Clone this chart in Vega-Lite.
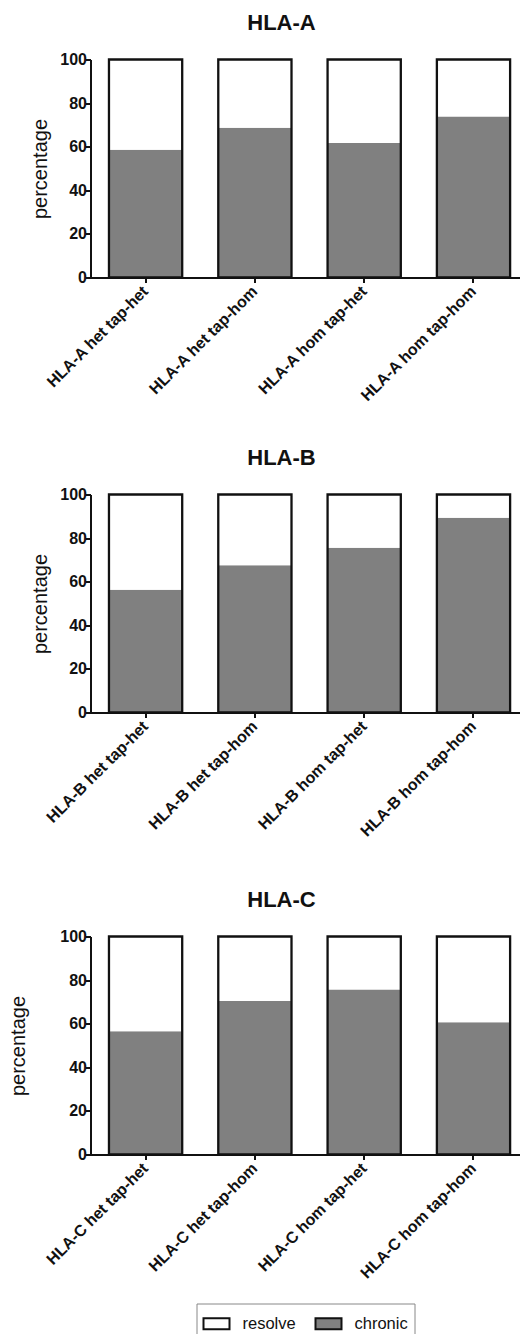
{
  "$schema": "https://vega.github.io/schema/vega-lite/v6.json",
  "padding": {"left": 8.5, "top": 11.5, "right": 0, "bottom": 0},
  "background": "white",
  "bounds": "flush",
  "spacing": 217,
  "datasets": {
    "d": [
      {"gene": "HLA-A", "group": "HLA-A het tap-het", "status": "chronic", "value": 58.6},
      {"gene": "HLA-A", "group": "HLA-A het tap-het", "status": "resolve", "value": 41.4},
      {"gene": "HLA-A", "group": "HLA-A het tap-hom", "status": "chronic", "value": 68.7},
      {"gene": "HLA-A", "group": "HLA-A het tap-hom", "status": "resolve", "value": 31.3},
      {"gene": "HLA-A", "group": "HLA-A hom tap-het", "status": "chronic", "value": 61.7},
      {"gene": "HLA-A", "group": "HLA-A hom tap-het", "status": "resolve", "value": 38.3},
      {"gene": "HLA-A", "group": "HLA-A hom tap-hom", "status": "chronic", "value": 73.8},
      {"gene": "HLA-A", "group": "HLA-A hom tap-hom", "status": "resolve", "value": 26.2},
      {"gene": "HLA-B", "group": "HLA-B het tap-het", "status": "chronic", "value": 56.3},
      {"gene": "HLA-B", "group": "HLA-B het tap-het", "status": "resolve", "value": 43.7},
      {"gene": "HLA-B", "group": "HLA-B het tap-hom", "status": "chronic", "value": 67.5},
      {"gene": "HLA-B", "group": "HLA-B het tap-hom", "status": "resolve", "value": 32.5},
      {"gene": "HLA-B", "group": "HLA-B hom tap-het", "status": "chronic", "value": 75.6},
      {"gene": "HLA-B", "group": "HLA-B hom tap-het", "status": "resolve", "value": 24.4},
      {"gene": "HLA-B", "group": "HLA-B hom tap-hom", "status": "chronic", "value": 89.3},
      {"gene": "HLA-B", "group": "HLA-B hom tap-hom", "status": "resolve", "value": 10.7},
      {"gene": "HLA-C", "group": "HLA-C het tap-het", "status": "chronic", "value": 56.5},
      {"gene": "HLA-C", "group": "HLA-C het tap-het", "status": "resolve", "value": 43.5},
      {"gene": "HLA-C", "group": "HLA-C het tap-hom", "status": "chronic", "value": 70.4},
      {"gene": "HLA-C", "group": "HLA-C het tap-hom", "status": "resolve", "value": 29.6},
      {"gene": "HLA-C", "group": "HLA-C hom tap-het", "status": "chronic", "value": 75.7},
      {"gene": "HLA-C", "group": "HLA-C hom tap-het", "status": "resolve", "value": 24.3},
      {"gene": "HLA-C", "group": "HLA-C hom tap-hom", "status": "chronic", "value": 60.7},
      {"gene": "HLA-C", "group": "HLA-C hom tap-hom", "status": "resolve", "value": 39.3}
    ]
  },
  "config": {
    "font": "Liberation Sans",
    "view": {"stroke": null},
    "title": {"fontSize": 22, "fontWeight": "bold", "color": "#111", "anchor": "middle", "dx": -24, "offset": 17},
    "axis": {
      "domainColor": "#111", "domainWidth": 2, "tickColor": "#111", "tickWidth": 2, "tickSize": 5,
      "labelColor": "#111", "labelFont": "Liberation Sans", "labelFontWeight": "bold", "grid": false,
      "titleColor": "#111", "titleFont": "Liberation Sans", "titleFontWeight": "normal"
    },
    "axisX": {"labelAngle": -45, "labelFontSize": 16, "labelPadding": 6, "labelAlign": "right", "labelBaseline": "middle", "title": null},
    "axisY": {"labelFontSize": 16, "labelPadding": -1, "values": [0, 20, 40, 60, 80, 100], "titleFontSize": 20}
  },
  "vconcat": [
    {
      "title": "HLA-A",
      "width": 430, "height": 218,
      "data": {"name": "d"},
      "transform": [{"filter": "datum.gene === 'HLA-A'"}],
      "encoding": {
        "x": {"field": "group", "type": "nominal", "scale": {"paddingInner": 0.33, "paddingOuter": 0.132, "align": 0.64}, "axis": {"title": null}}
      },
      "layer": [
        {
          "mark": {"type": "bar", "strokeWidth": 0},
          "encoding": {
            "y": {"field": "value", "type": "quantitative", "stack": "zero", "scale": {"domain": [0, 100]}, "axis": {"title": "percentage", "titlePadding": 9.5}},
            "color": {"field": "status", "type": "nominal", "scale": {"domain": ["resolve", "chronic"], "range": ["#ffffff", "#808080"]},
              "legend": {"orient": "none", "legendX": 106, "legendY": 1244, "direction": "horizontal", "title": null, "labelFontSize": 16.5, "labelFont": "Liberation Sans", "labelColor": "#111",
                "symbolType": "M-1,-0.42H1V0.42H-1Z", "symbolSize": 676, "symbolStrokeColor": "#111", "symbolStrokeWidth": 2, "symbolOpacity": 1,
                "strokeColor": "#888", "padding": 6, "columnPadding": 15, "labelOffset": 12}},
            "order": {"field": "status", "sort": "ascending"}
          }
        },
        {
          "mark": {"type": "bar", "fill": null, "stroke": "#111", "strokeWidth": 2.3},
          "encoding": {"y": {"aggregate": "sum", "field": "value", "type": "quantitative"}}
        }
      ]
    },
    {
      "spacing": 224,
      "bounds": "flush",
      "vconcat": [
        {
          "title": "HLA-B",
          "width": 430, "height": 218,
          "data": {"name": "d"},
          "transform": [{"filter": "datum.gene === 'HLA-B'"}],
          "encoding": {
            "x": {"field": "group", "type": "nominal", "scale": {"paddingInner": 0.33, "paddingOuter": 0.132, "align": 0.64}, "axis": {"title": null}}
          },
          "layer": [
            {
              "mark": {"type": "bar", "strokeWidth": 0},
              "encoding": {
                "y": {"field": "value", "type": "quantitative", "stack": "zero", "scale": {"domain": [0, 100]}, "axis": {"title": "percentage", "titlePadding": 9.5}},
                "color": {"field": "status", "type": "nominal"},
                "order": {"field": "status", "sort": "ascending"}
              }
            },
            {
              "mark": {"type": "bar", "fill": null, "stroke": "#111", "strokeWidth": 2.3},
              "encoding": {"y": {"aggregate": "sum", "field": "value", "type": "quantitative"}}
            }
          ]
        },
        {
          "title": "HLA-C",
          "width": 430, "height": 218,
          "data": {"name": "d"},
          "transform": [{"filter": "datum.gene === 'HLA-C'"}],
          "encoding": {
            "x": {"field": "group", "type": "nominal", "scale": {"paddingInner": 0.33, "paddingOuter": 0.132, "align": 0.64}, "axis": {"title": null}}
          },
          "layer": [
            {
              "mark": {"type": "bar", "strokeWidth": 0},
              "encoding": {
                "y": {"field": "value", "type": "quantitative", "stack": "zero", "scale": {"domain": [0, 100]}, "axis": {"title": "percentage", "titlePadding": 31}},
                "color": {"field": "status", "type": "nominal"},
                "order": {"field": "status", "sort": "ascending"}
              }
            },
            {
              "mark": {"type": "bar", "fill": null, "stroke": "#111", "strokeWidth": 2.3},
              "encoding": {"y": {"aggregate": "sum", "field": "value", "type": "quantitative"}}
            }
          ]
        }
      ]
    }
  ]
}
